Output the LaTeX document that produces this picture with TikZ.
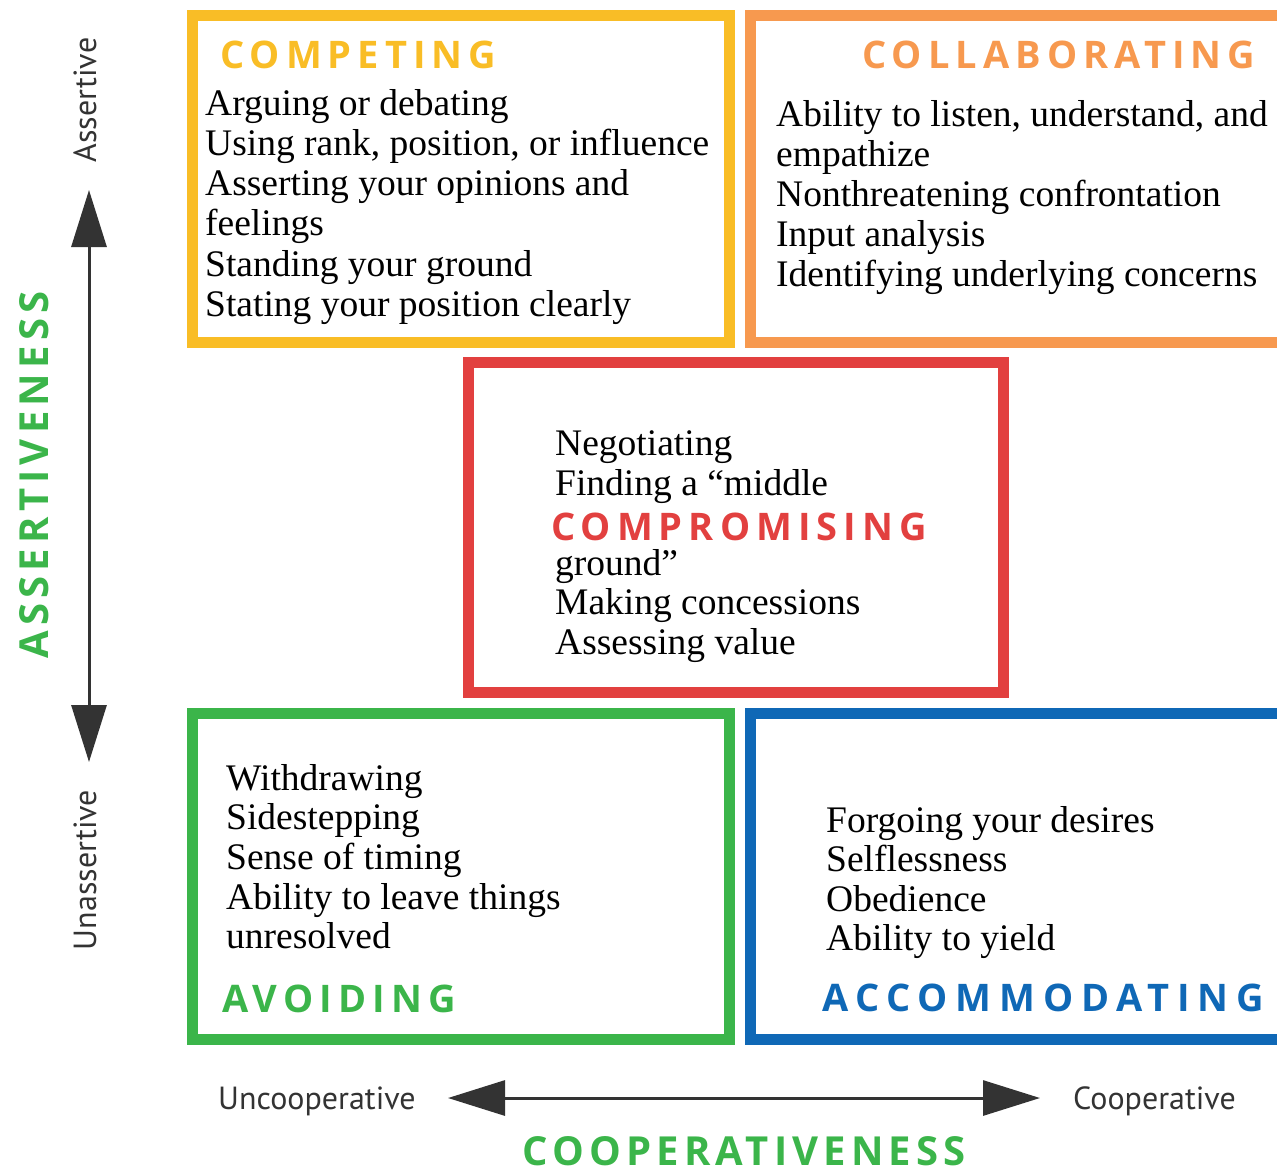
\documentclass[tikz,border=0pt]{standalone}
\usepackage{fontspec}
\setmainfont{Liberation Serif}
\newfontfamily\headfont[LetterSpace=16]{Open Sans}
\newfontfamily\headwidefont[LetterSpace=20.5]{Open Sans}
\newfontfamily\axheadfont[LetterSpace=13]{Open Sans}
\newfontfamily\axfont{PT Sans}
\usetikzlibrary{arrows.meta}
\definecolor{cYel}{HTML}{F9BD26}
\definecolor{cOra}{HTML}{F7994F}
\definecolor{cRed}{HTML}{E2403F}
\definecolor{cGrn}{HTML}{3BB54A}
\definecolor{cBlu}{HTML}{0F68B6}
\definecolor{cAx}{HTML}{333333}
\begin{document}
\begin{tikzpicture}[x=1pt,y=-1pt,
  qbox/.style={draw=#1, line width=11pt, inner sep=0pt},
  lineitem/.style={anchor=base west, inner sep=0pt, font=\fontsize{37.5}{40}\selectfont},
  heading/.style={anchor=base west, inner sep=0pt, text=#1, font=\headfont\bfseries\fontsize{38}{40}\selectfont},
  wideheading/.style={anchor=base west, inner sep=0pt, text=#1, font=\headwidefont\bfseries\fontsize{38}{40}\selectfont},
  axlab/.style={inner sep=0pt, text=cAx, font=\axfont\fontsize{32}{34}\selectfont},
  axhead/.style={inner sep=0pt, text=cGrn, font=\axheadfont\bfseries\fontsize{40}{42}\selectfont},
  axisline/.style={draw=cAx, line width=3pt, {Triangle[length=57pt,width=35pt]}-{Triangle[length=57pt,width=35pt]}}
]
\useasboundingbox (0,0) rectangle (1277,1171);
\clip (0,0) rectangle (1277,1171);

% frames
\node[qbox=cYel, minimum width=537pt, minimum height=327pt] (competing) at (461,179) {};
\node[qbox=cOra, minimum width=559.5pt, minimum height=327pt] (collab) at (1030.25,179) {};
\node[qbox=cRed, minimum width=535pt, minimum height=330pt] (comprom) at (736,527.5) {};
\node[qbox=cGrn, minimum width=537pt, minimum height=326pt] (avoiding) at (461,876.5) {};
\node[qbox=cBlu, minimum width=559.5pt, minimum height=326pt] (accom) at (1030.25,876.5) {};

% competing
\node[heading=cYel] (h-comp) at (220,68) {COMPETING};
\foreach \t [count=\i from 0] in {Arguing or debating, {Using rank, position, or influence}, Asserting your opinions and, feelings, Standing your ground, Stating your position clearly}
  \node[lineitem] (comp-\i) at (205,115+40.3*\i) {\t};

% collaborating
\node[heading=cOra] (h-coll) at (862,68) {COLLABORATING};
\foreach \t [count=\i from 0] in {{Ability to listen, understand, and}, empathize, Nonthreatening confrontation, Input analysis, Identifying underlying concerns}
  \node[lineitem] (coll-\i) at (776,126+40*\i) {\t};

% compromising
\node[lineitem] (cm-0) at (555,455) {Negotiating};
\node[lineitem] (cm-1) at (555,495) {Finding a “middle};
\node[heading=cRed] (h-cm) at (551,540) {COMPROMISING};
\node[lineitem] (cm-2) at (555,575) {ground”};
\node[lineitem] (cm-3) at (555,614) {Making concessions};
\node[lineitem] (cm-4) at (555,654) {Assessing value};

% avoiding
\foreach \t [count=\i from 0] in {Withdrawing, Sidestepping, Sense of timing, Ability to leave things, unresolved}
  \node[lineitem] (av-\i) at (226,790+39.7*\i) {\t};
\node[heading=cGrn] (h-av) at (222,1012) {AVOIDING};

% accommodating
\foreach \t [count=\i from 0] in {Forgoing your desires, Selflessness, Obedience, Ability to yield}
  \node[lineitem] (ac-\i) at (826,832+39.5*\i) {\t};
\node[wideheading=cBlu] (h-ac) at (822,1011) {ACCOMMODATING};

% vertical axis
\coordinate (vtop) at (89,190);
\coordinate (vbot) at (89,762);
\draw[axisline] (vtop) -- (vbot);
\node[axlab, rotate=90] (assertive) at (85,100) {Assertive};
\node[axlab, rotate=90] (unassertive) at (85,870) {Unassertive};
\node[axhead, rotate=90] (assertiveness) at (34,475) {ASSERTIVENESS};

% horizontal axis
\coordinate (hleft) at (448,1098);
\coordinate (hright) at (1040,1098);
\draw[axisline] (hleft) -- (hright);
\node[axlab, anchor=base west] (uncoop) at (218,1109) {Uncooperative};
\node[axlab, anchor=base west] (coop) at (1073,1109) {Cooperative};
\node[axhead, anchor=base, text depth=0pt] (cooperativeness) at (744,1165) {COOPERATIVENESS};
\end{tikzpicture}
\end{document}
